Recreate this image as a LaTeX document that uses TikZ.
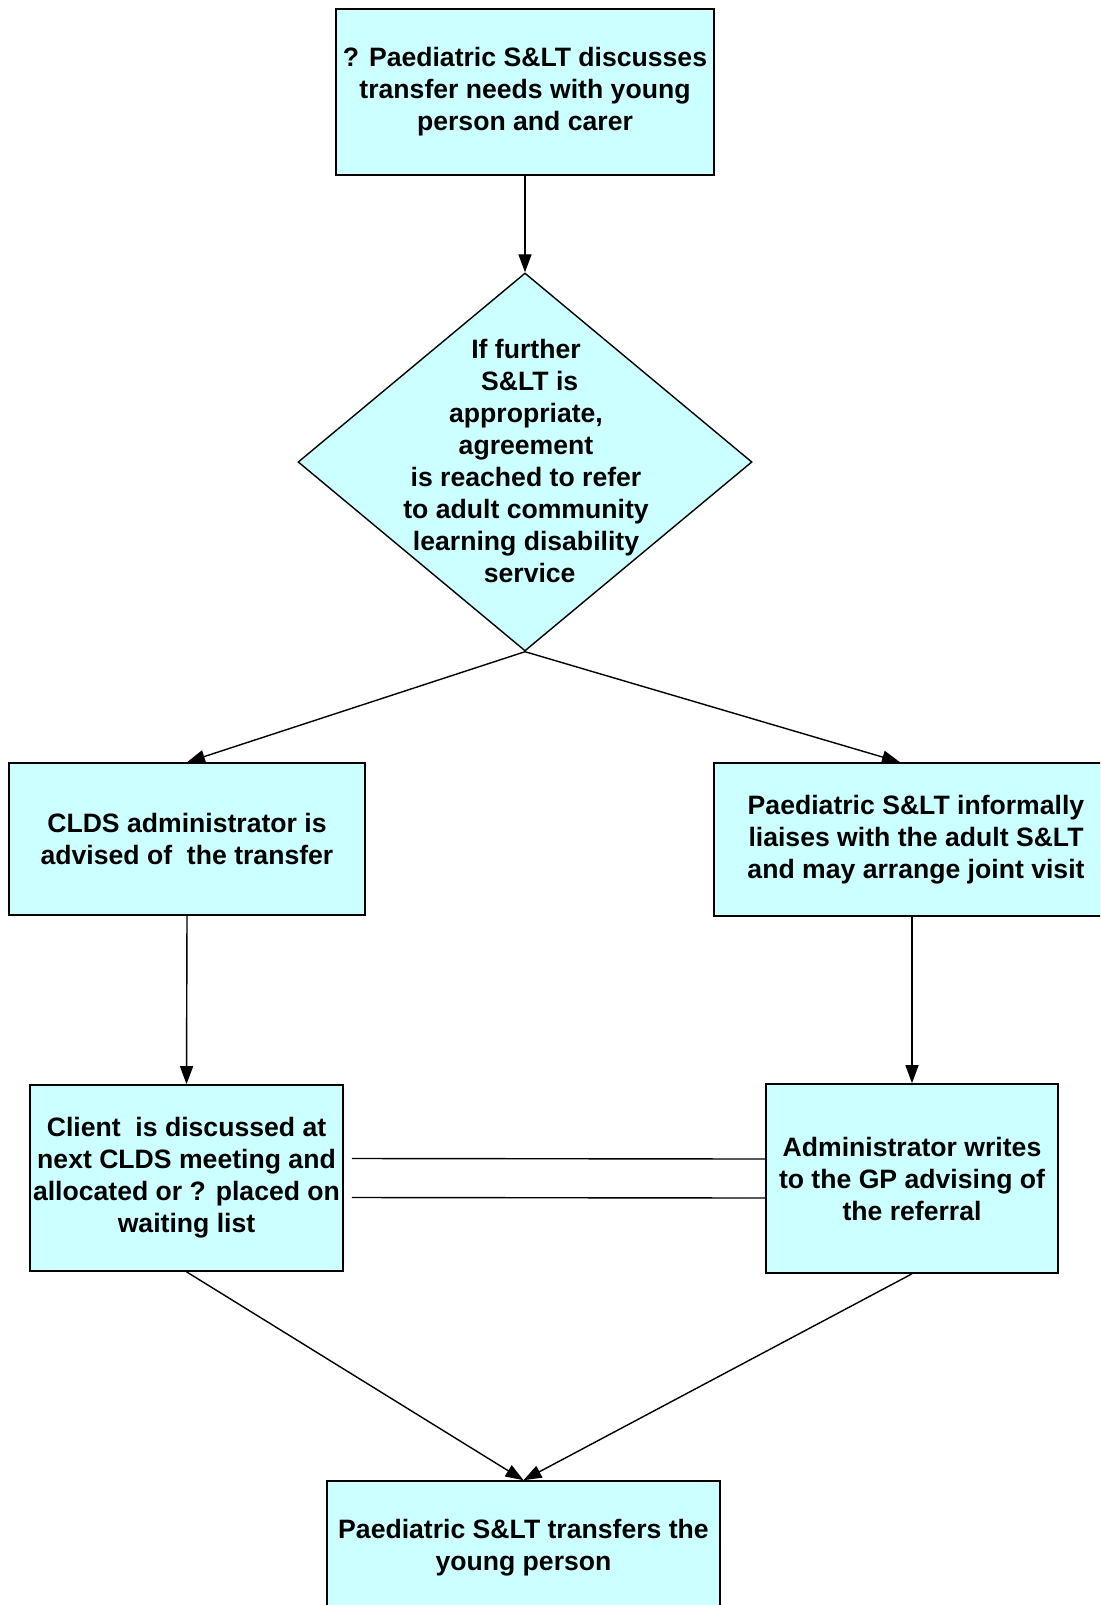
\documentclass[tikz,border=0pt]{standalone}
\usepackage{fontspec}
\setmainfont{Liberation Sans}
\usetikzlibrary{arrows.meta,shapes.geometric}
\definecolor{boxfill}{HTML}{CCFFFF}
\begin{document}
\begin{tikzpicture}[x=1pt,y=-1pt,
  every node/.style={font=\fontsize{26.6}{32}\selectfont\bfseries, align=center},
  flowbox/.style={draw=black, line width=1.6pt, fill=boxfill, rectangle,
    inner sep=0pt, minimum width=#1},
  decision/.style={draw=black, line width=1.4pt, fill=boxfill, diamond,
    inner sep=0pt, minimum width=454pt, minimum height=378pt},
  link/.style={line width=1.4pt, -{Triangle[length=18pt,width=13pt]}},
  plain/.style={line width=1.4pt}]
\clip (0,0) rectangle (1100,1605);
\fill[white] (0,0) rectangle (1100,1605);

% boxes
\node[flowbox=378pt, minimum height=166pt] (top) at (525,92)
  {? Paediatric S\&LT discusses\\transfer needs with young\\person and carer};
\node[decision] (dec) at (525,462) {};
\node (dectext) at (526,461)
  {If further\\ \hphantom{i}S\&LT is\\appropriate,\\agreement\\is reached to refer\\to adult community\\learning disability\\ \hphantom{i}service};
\node[flowbox=356pt, minimum height=152pt] (clds) at (187,839)
  {CLDS administrator is\\advised of~ the transfer};
\node[flowbox=404pt, minimum height=153pt] (liaise) at (916,839.5)
  {Paediatric S\&LT informally\\liaises with the adult S\&LT\\and may arrange joint visit};
\node[flowbox=313pt, minimum height=186pt] (client) at (186.5,1178)
  {Client~ is discussed at\\next CLDS meeting and\\allocated or ? placed on\\waiting list};
\node[flowbox=292pt, minimum height=189pt] (admin) at (912,1178.5)
  {Administrator writes\\to the GP advising of\\the referral};
\node[flowbox=393pt, minimum height=133pt] (final) at (523.5,1547.5)
  {Paediatric S\&LT transfers the\\young person};

% connectors
\draw[link] (top.south) -- (dec.north);
\draw[link] (dec.south) -- (clds.north);
\draw[link] (dec.south) -- ([xshift=-16pt]liaise.north);
\draw[link] (clds.south) -- (client.north);
\draw[link] (admin.north |- liaise.south) -- (admin.north);
\draw[plain] ([xshift=8pt,yshift=19.5pt]client.east) -- ([yshift=19.5pt]admin.west);
\draw[plain] ([xshift=8pt,yshift=-19.5pt]client.east) -- ([yshift=-19.5pt]admin.west);
\draw[link] (client.south) -- (final.north);
\draw[link] (admin.south) -- (final.north);
\end{tikzpicture}
\end{document}
